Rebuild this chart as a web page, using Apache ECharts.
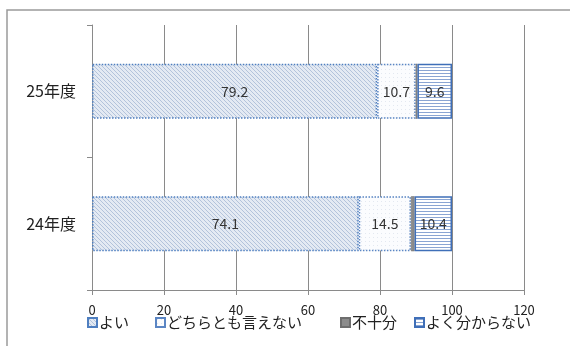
<!DOCTYPE html>
<html>
<head>
<meta charset="utf-8">
<script src="https://cdn.jsdelivr.net/npm/echarts@6/dist/echarts.min.js"></script>
<style>
  html, body { margin: 0; padding: 0; background: #fff; }
  #chart { width: 570px; height: 346px; }
</style>
</head>
<body>
<div id="chart"></div>
<script>
// Survey years (bottom to top) and answer shares in percent
const years = ['24年度', '25年度'];
const good = [74.1, 79.2];        // よい
const neutral = [14.5, 10.7];     // どちらとも言えない
const poor = [1.0, 0.5];          // 不十分
const unknown = [10.4, 9.6];      // よく分からない
const seriesNames = ['よい', 'どちらとも言えない', '不十分', 'よく分からない'];
const xTicks = [0, 20, 40, 60, 80, 100, 120];

// Small repeating fill patterns for the bar segments
function pattern(size, draw) {
  const c = document.createElement('canvas');
  c.width = size; c.height = size;
  const g = c.getContext('2d');
  draw(g, size);
  return { image: c, repeat: 'repeat' };
}
const hatchFill = pattern(4, (g, s) => {
  g.fillStyle = '#e4eaf3'; g.fillRect(0, 0, s, s);
  g.strokeStyle = '#b3c3db'; g.lineWidth = 1;
  g.beginPath(); g.moveTo(-1, -1); g.lineTo(s + 1, s + 1); g.stroke();
});
const dotFill = pattern(4, (g, s) => {
  g.fillStyle = '#fbfcfe'; g.fillRect(0, 0, s, s);
  g.fillStyle = '#e3e8f0'; g.fillRect(1, 1, 1, 1);
});
const stripeFill = pattern(3, (g, s) => {
  g.fillStyle = '#ffffff'; g.fillRect(0, 0, s, s);
  g.fillStyle = '#8aa5d3'; g.fillRect(0, 1, s, 1);
});

const labelStyle = { show: true, position: 'inside', color: '#333', fontSize: 14,
  fontFamily: 'Noto Sans CJK JP' };

const chart = echarts.init(document.getElementById('chart'));
chart.setOption({
  animation: false,
  backgroundColor: '#fff',
  textStyle: { fontFamily: 'Noto Sans CJK JP' },
  graphic: [{
    type: 'rect', shape: { x: 7, y: 10, width: 620, height: 400 },
    style: { fill: 'none', stroke: '#9a9a9a', lineWidth: 1.5 }, silent: true
  }],
  grid: { left: 92, right: 46, top: 25, bottom: 56 },
  legend: [82, 150, 335, 409].map((left, i) => ({
    left: left, top: 310, itemWidth: 9, itemHeight: 9, itemGap: 0,
    icon: 'rect', data: [seriesNames[i]],
    textStyle: { fontSize: 15, color: '#222', fontFamily: 'Noto Sans CJK JP', padding: [0, 0, 0, -3] }
  })),
  xAxis: {
    type: 'value', min: 0, max: 120, interval: 20,
    axisLine: { show: true, lineStyle: { color: '#8a8a8a' } },
    axisTick: { show: true, length: 5, lineStyle: { color: '#8a8a8a' } },
    axisLabel: { color: '#222', fontSize: 13, margin: 14,
      formatter: v => xTicks.includes(v) ? String(v) : '' },
    splitLine: { show: true, lineStyle: { color: '#8a8a8a', width: 1 } }
  },
  yAxis: {
    type: 'category', data: years,
    axisLine: { show: true, lineStyle: { color: '#8a8a8a' } },
    axisTick: { show: true, length: 5, lineStyle: { color: '#8a8a8a' } },
    axisLabel: { color: '#222', fontSize: 16, margin: 16 }
  },
  series: [
    { name: seriesNames[0], type: 'bar', stack: 'all', barWidth: 55, data: good,
      itemStyle: { color: hatchFill, borderColor: '#4f7fc0', borderWidth: 1.5, borderType: 'dotted' },
      label: labelStyle },
    { name: seriesNames[1], type: 'bar', stack: 'all', data: neutral,
      itemStyle: { color: dotFill, borderColor: '#5b86c4', borderWidth: 1.5, borderType: 'dotted' },
      label: labelStyle },
    { name: seriesNames[2], type: 'bar', stack: 'all', data: poor,
      itemStyle: { color: '#8c8c8c', borderColor: '#6e6e6e', borderWidth: 0.5 },
      label: { show: false } },
    { name: seriesNames[3], type: 'bar', stack: 'all', data: unknown,
      itemStyle: { color: stripeFill, borderColor: '#3f6fb8', borderWidth: 1.5 },
      label: labelStyle }
  ]
});
</script>
</body>
</html>
